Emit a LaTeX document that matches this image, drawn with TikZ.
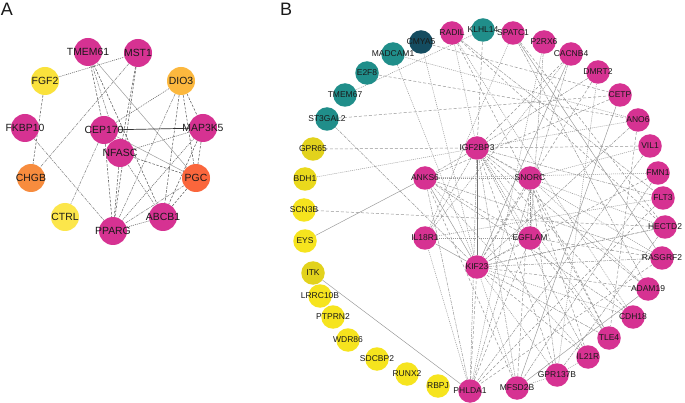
\documentclass[tikz,border=0pt]{standalone}
\usepackage{fontspec}
\setmainfont{Liberation Sans}
\pgfdeclarelayer{bg}
\pgfsetlayers{bg,main}
\definecolor{cmag}{RGB}{214,50,146}
\definecolor{cyelA}{RGB}{250,226,60}
\definecolor{cyelC}{RGB}{252,230,75}
\definecolor{cdio}{RGB}{252,184,62}
\definecolor{cchgb}{RGB}{247,140,62}
\definecolor{cpgc}{RGB}{250,102,60}
\definecolor{cyelB}{RGB}{246,228,30}
\definecolor{cteal}{RGB}{32,142,138}
\definecolor{cdteal}{RGB}{20,76,96}
\definecolor{edgeA}{RGB}{95,95,95}
\definecolor{edgeB}{RGB}{150,150,150}
\begin{document}
\begin{tikzpicture}[x=1pt,y=-1pt,
  na/.style={circle,inner sep=0pt,minimum size=28pt},
  nb/.style={circle,inner sep=0pt,minimum size=23.5pt},
  la/.style={font=\fontsize{10.4}{12}\selectfont,text=black!90,inner sep=0pt},
  lb/.style={font=\fontsize{8.5}{10}\selectfont,text=black!90,inner sep=0pt},
  pl/.style={font=\fontsize{18}{20}\selectfont,text=black!90,inner sep=0pt},
  xad/.style={draw=edgeA,line width=0.55pt,dash pattern=on 2.5pt off 1.5pt},
  xat/.style={draw=edgeA,line width=0.55pt,dash pattern=on 1pt off 1pt},
  xadd/.style={draw=edgeA!80,line width=0.5pt,dash pattern=on 3pt off 1pt on 1pt off 1pt},
  xas/.style={draw=edgeA!60,line width=0.5pt},
  xak/.style={draw=black!80,line width=0.7pt},
  xbd/.style={draw=edgeB,line width=0.5pt,dash pattern=on 3pt off 2pt},
  xbt/.style={draw=edgeB,line width=0.5pt,dash pattern=on 1pt off 1pt},
  xbdd/.style={draw=edgeB,line width=0.5pt,dash pattern=on 3pt off 1pt on 1pt off 1pt},
  xbs/.style={draw=edgeB,line width=0.45pt},
  xbk/.style={draw=black!55,line width=0.6pt}]
\useasboundingbox (0,0) rectangle (685,403);
\node[pl] (labA) at (7,9) {A};
\node[pl] (labB) at (286,9) {B};
% ---------- panel A nodes
\node[na,fill=cmag,label={[la]center:TMEM61}] (tmem61) at (88,52) {};
\node[na,fill=cmag,label={[la]center:MST1}] (mst1) at (138,53) {};
\node[na,fill=cyelA,label={[la]center:FGF2}] (fgf2) at (45,81) {};
\node[na,fill=cdio,label={[la]center:DIO3}] (dio3) at (181,81) {};
\node[na,fill=cmag,label={[la]center:FKBP10}] (fkbp10) at (25,128) {};
\node[na,fill=cmag,label={[la]center:CEP170}] (cep170) at (104,130) {};
\node[na,fill=cmag,label={[la]center:MAP3K5}] (map3k5) at (203,128) {};
\node[na,fill=cmag,label={[la]center:NFASC}] (nfasc) at (120,153) {};
\node[na,fill=cchgb,label={[la]center:CHGB}] (chgb) at (31,178) {};
\node[na,fill=cpgc,label={[la]center:PGC}] (pgc) at (196,178) {};
\node[na,fill=cyelC,label={[la]center:CTRL}] (ctrl) at (65,217) {};
\node[na,fill=cmag,label={[la]center:ABCB1}] (abcb1) at (163,217) {};
\node[na,fill=cmag,label={[la]center:PPARG}] (pparg) at (113,231) {};
% ---------- panel B nodes
\node[nb,fill=cteal,label={[lb]center:ST3GAL2}] (st3gal2) at (327,119) {};
\node[nb,fill=cteal,label={[lb]center:TMEM67}] (tmem67) at (345,95) {};
\node[nb,fill=cteal,label={[lb]center:E2F8}] (e2f8) at (367,73) {};
\node[nb,fill=cteal,label={[lb]center:MADCAM1}] (madcam1) at (393,54) {};
\node[nb,fill=cdteal,label={[lb]center:CMYA5}] (cmya5) at (421,42) {};
\node[nb,fill=cmag,label={[lb]center:RADIL}] (radil) at (452,33) {};
\node[nb,fill=cteal,label={[lb]center:KLHL14}] (klhl14) at (483,30) {};
\node[nb,fill=cmag,label={[lb]center:SPATC1}] (spatc1) at (513,33) {};
\node[nb,fill=cmag,label={[lb]center:P2RX6}] (p2rx6) at (544,42) {};
\node[nb,fill=cmag,label={[lb]center:CACNB4}] (cacnb4) at (571,54) {};
\node[nb,fill=cmag,label={[lb]center:DMRT2}] (dmrt2) at (598,72) {};
\node[nb,fill=cmag,label={[lb]center:CETP}] (cetp) at (620,95) {};
\node[nb,fill=cmag,label={[lb]center:ANO6}] (ano6) at (638,120) {};
\node[nb,fill=cmag,label={[lb]center:VIL1}] (vil1) at (650,146) {};
\node[nb,fill=cmag,label={[lb]center:FMN1}] (fmn1) at (658,173) {};
\node[nb,fill=cmag,label={[lb]center:FLT3}] (flt3) at (663,198) {};
\node[nb,fill=cmag,label={[lb]center:HECTD2}] (hectd2) at (665,227) {};
\node[nb,fill=cmag,label={[lb]center:RASGRF2}] (rasgrf2) at (662,258) {};
\node[nb,fill=cmag,label={[lb]center:ADAM19}] (adam19) at (648,289) {};
\node[nb,fill=cmag,label={[lb]center:CDH18}] (cdh18) at (633,317) {};
\node[nb,fill=cmag,label={[lb]center:TLE4}] (tle4) at (609,338) {};
\node[nb,fill=cmag,label={[lb]center:IL21R}] (il21r) at (588,357) {};
\node[nb,fill=cmag,label={[lb]center:GPR137B}] (gpr137b) at (557,375) {};
\node[nb,fill=cmag,label={[lb]center:MFSD2B}] (mfsd2b) at (517,388) {};
\node[nb,fill=cmag,label={[lb]center:PHLDA1}] (phlda1) at (470,391) {};
\node[nb,fill=cyelB,label={[lb]center:RBPJ}] (rbpj) at (438,386) {};
\node[nb,fill=cyelB,label={[lb]center:RUNX2}] (runx2) at (407,374) {};
\node[nb,fill=cyelB,label={[lb]center:SDCBP2}] (sdcbp2) at (377,359) {};
\node[nb,fill=cyelB,label={[lb]center:WDR86}] (wdr86) at (348,340) {};
\node[nb,fill=cyelB,label={[lb]center:PTPRN2}] (ptprn2) at (333,317) {};
\node[nb,fill=cyelB,label={[lb]center:LRRC10B}] (lrrc10b) at (320,296) {};
\node[nb,fill=cyelB!92!black,label={[lb]center:ITK}] (itk) at (313,273) {};
\node[nb,fill=cyelB,label={[lb]center:EYS}] (eys) at (305,241) {};
\node[nb,fill=cyelB,label={[lb]center:SCN3B}] (scn3b) at (304,210) {};
\node[nb,fill=cyelB!95!black,label={[lb]center:BDH1}] (bdh1) at (305,179) {};
\node[nb,fill=cyelB!92!black,label={[lb]center:GPR65}] (gpr65) at (313,149) {};
\node[nb,fill=cmag,label={[lb]center:IGF2BP3}] (igf2bp3) at (477,148) {};
\node[nb,fill=cmag,label={[lb]center:ANKS6}] (anks6) at (425,178) {};
\node[nb,fill=cmag,label={[lb]center:SNORC}] (snorc) at (530,178) {};
\node[nb,fill=cmag,label={[lb]center:IL18R1}] (il18r1) at (425,238) {};
\node[nb,fill=cmag,label={[lb]center:EGFLAM}] (egflam) at (530,238) {};
\node[nb,fill=cmag,label={[lb]center:KIF23}] (kif23) at (477,267) {};
% ---------- edges
\begin{pgfonlayer}{bg}
\fill[white] (0,0) rectangle (685,403);
\foreach \a/\b/\s in {fgf2/mst1/xat, fgf2/chgb/xad, mst1/chgb/xadd, tmem61/cep170/xad,
  tmem61/nfasc/xadd, tmem61/pgc/xas, tmem61/abcb1/xad, mst1/nfasc/xad, mst1/pparg/xad,
  dio3/cep170/xat, dio3/map3k5/xad, dio3/pgc/xad, dio3/abcb1/xad, dio3/pparg/xadd,
  cep170/map3k5/xak, cep170/pparg/xad, cep170/ctrl/xadd, fkbp10/pparg/xadd,
  nfasc/map3k5/xat, nfasc/pgc/xad, nfasc/abcb1/xadd, nfasc/pparg/xad, map3k5/pparg/xat,
  map3k5/pgc/xad, map3k5/abcb1/xad, pgc/pparg/xadd, pgc/abcb1/xad, abcb1/pparg/xat,
  cep170/pgc/xas}
  \draw[style=\s] (\a) -- (\b);
\foreach \a/\b/\s in {st3gal2/cetp/xbd, st3gal2/kif23/xbdd, tmem67/klhl14/xbt, e2f8/ano6/xbd,
  madcam1/kif23/xbt, madcam1/ano6/xbt, cmya5/kif23/xbt, cmya5/cetp/xbd,
  radil/flt3/xbdd, radil/hectd2/xbd, radil/igf2bp3/xbt, klhl14/igf2bp3/xbd,
  spatc1/hectd2/xbd, spatc1/rasgrf2/xbs, spatc1/il18r1/xbt, p2rx6/phlda1/xbt, p2rx6/egflam/xbdd,
  cacnb4/igf2bp3/xbd, cacnb4/kif23/xbs, cacnb4/phlda1/xbdd, cacnb4/il18r1/xbt,
  dmrt2/kif23/xbd, dmrt2/gpr137b/xbt, dmrt2/igf2bp3/xbdd, cetp/anks6/xbd, cetp/mfsd2b/xbs,
  ano6/kif23/xbdd, ano6/igf2bp3/xbt, ano6/tle4/xbd, vil1/igf2bp3/xbd, vil1/phlda1/xbdd, vil1/snorc/xbt,
  fmn1/kif23/xbd, fmn1/anks6/xbt, fmn1/mfsd2b/xbdd, flt3/igf2bp3/xbdd, flt3/phlda1/xbd, flt3/il18r1/xbt,
  hectd2/kif23/xbd, hectd2/snorc/xbt, hectd2/gpr137b/xbdd, rasgrf2/igf2bp3/xbt, rasgrf2/phlda1/xbd,
  rasgrf2/anks6/xbdd, adam19/kif23/xbd, adam19/snorc/xbt, adam19/mfsd2b/xbs, adam19/igf2bp3/xbdd,
  cdh18/igf2bp3/xbd, cdh18/kif23/xbt, cdh18/anks6/xbdd, tle4/snorc/xbd, tle4/kif23/xbdd,
  tle4/igf2bp3/xbt, tle4/egflam/xbd, il21r/igf2bp3/xbdd, il21r/kif23/xbd, il21r/anks6/xbt,
  il21r/snorc/xbd, il21r/gpr137b/xbt, gpr137b/igf2bp3/xbd, gpr137b/snorc/xbdd, gpr137b/kif23/xbt,
  gpr137b/mfsd2b/xbt, mfsd2b/igf2bp3/xbdd, mfsd2b/anks6/xbd, mfsd2b/kif23/xbt, mfsd2b/snorc/xbd,
  phlda1/igf2bp3/xbdd, phlda1/kif23/xbd, phlda1/il18r1/xbt, phlda1/egflam/xbd, phlda1/anks6/xbdd,
  itk/phlda1/xbs, gpr65/igf2bp3/xbd, bdh1/igf2bp3/xbt, scn3b/hectd2/xbd, eys/anks6/xbs,
  igf2bp3/kif23/xbk, igf2bp3/snorc/xbd, igf2bp3/egflam/xbt, igf2bp3/anks6/xbdd,
  anks6/kif23/xbs, anks6/egflam/xbd, anks6/snorc/xbt, il18r1/kif23/xbs, il18r1/igf2bp3/xbdd,
  il18r1/egflam/xbt, snorc/kif23/xbd, snorc/egflam/xbdd, egflam/kif23/xbt, egflam/rasgrf2/xbd,
  kif23/rasgrf2/xbdd, kif23/hectd2/xbt, radil/cdh18/xbt, radil/tle4/xbd, spatc1/adam19/xbdd}
  \draw[style=\s] (\a) -- (\b);
\end{pgfonlayer}
\end{tikzpicture}
\end{document}
